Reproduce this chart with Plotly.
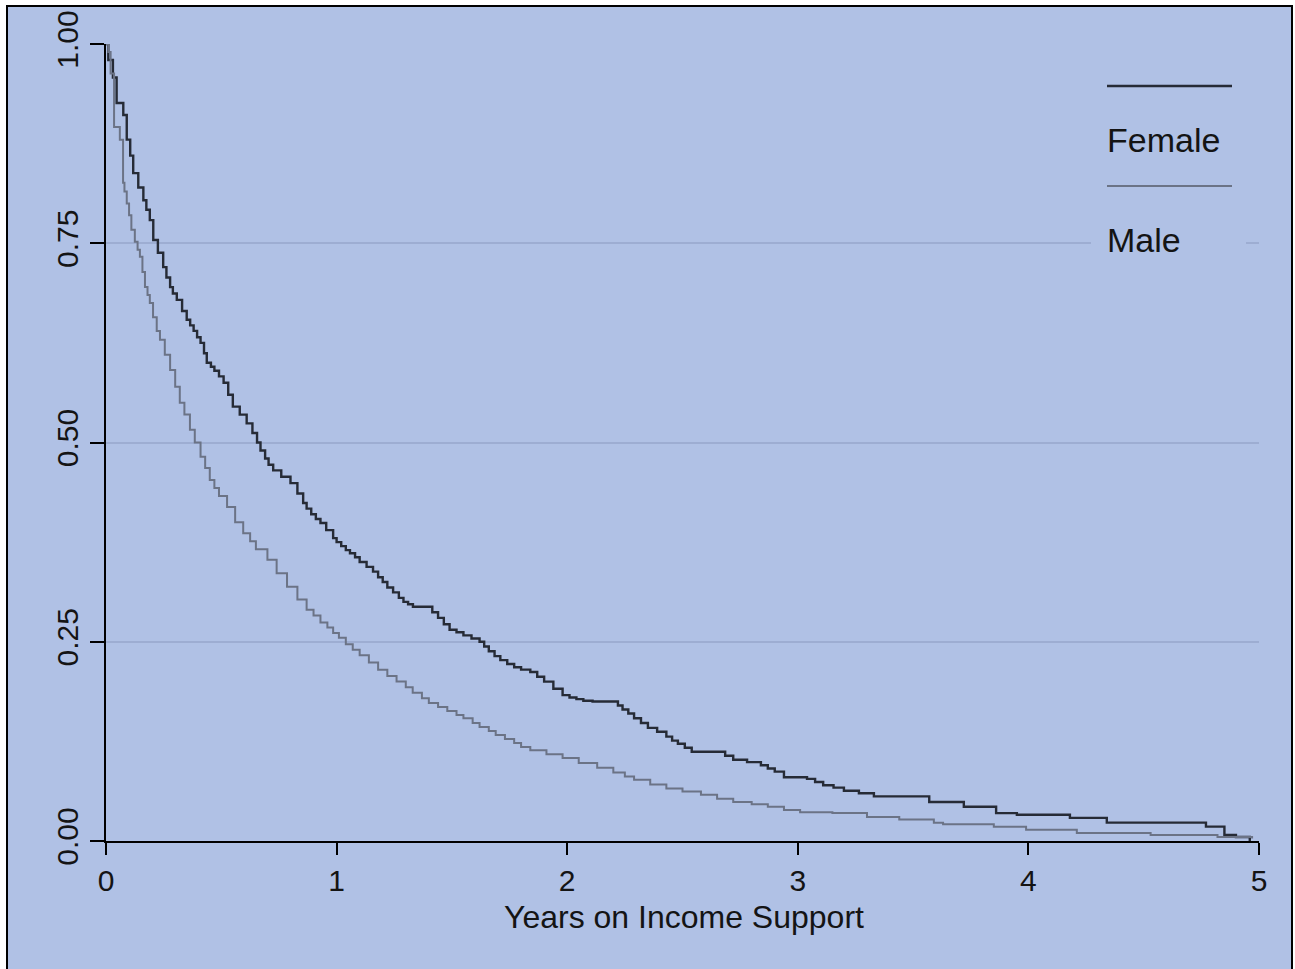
import plotly.graph_objects as go

# ---- data ----
female_t = [0, 0.01, 0.03, 0.046, 0.075, 0.09, 0.105, 0.118, 0.14, 0.162, 0.175, 0.19, 0.205, 0.225,
            0.248, 0.262, 0.278, 0.29, 0.307, 0.33, 0.35, 0.365, 0.38, 0.395, 0.41, 0.425, 0.437,
            0.455, 0.47, 0.49, 0.51, 0.53, 0.55, 0.58, 0.61, 0.635, 0.655, 0.67, 0.69, 0.705, 0.725,
            0.76, 0.80, 0.83, 0.855, 0.87, 0.89, 0.91, 0.93, 0.955, 0.985, 1.0, 1.02, 1.04, 1.058,
            1.08, 1.10, 1.13, 1.158, 1.18, 1.20, 1.22, 1.245, 1.27, 1.29, 1.31, 1.331, 1.39, 1.415,
            1.44, 1.465, 1.49, 1.52, 1.55, 1.585, 1.62, 1.64, 1.66, 1.685, 1.71, 1.74, 1.77, 1.80,
            1.84, 1.87, 1.90, 1.94, 1.98, 2.01, 2.04, 2.07, 2.11, 2.20, 2.22, 2.24, 2.265, 2.29, 2.32,
            2.35, 2.39, 2.43, 2.455, 2.48, 2.51, 2.54, 2.65, 2.685, 2.72, 2.78, 2.84, 2.87, 2.90, 2.94,
            3.04, 3.075, 3.11, 3.155, 3.20, 3.265, 3.33, 3.44, 3.57, 3.72, 3.86, 3.95, 4.18, 4.34,
            4.77, 4.85, 4.90, 4.96]
female_s = [1.00, 0.98, 0.958, 0.926, 0.911, 0.88, 0.86, 0.838, 0.82, 0.804, 0.792, 0.779, 0.754, 0.738,
            0.72, 0.707, 0.695, 0.687, 0.679, 0.665, 0.654, 0.647, 0.64, 0.632, 0.625, 0.612, 0.60,
            0.595, 0.59, 0.583, 0.575, 0.56, 0.545, 0.535, 0.524, 0.512, 0.50, 0.49, 0.48, 0.472, 0.465,
            0.457, 0.449, 0.436, 0.424, 0.417, 0.41, 0.404, 0.399, 0.39, 0.38, 0.375, 0.37, 0.365, 0.361,
            0.356, 0.35, 0.344, 0.338, 0.331, 0.325, 0.318, 0.312, 0.305, 0.30, 0.297, 0.294, 0.294, 0.287,
            0.28, 0.272, 0.265, 0.262, 0.258, 0.254, 0.25, 0.244, 0.238, 0.232, 0.227, 0.222, 0.218, 0.215,
            0.212, 0.206, 0.20, 0.191, 0.183, 0.18, 0.178, 0.176, 0.175, 0.175, 0.17, 0.165, 0.16, 0.154, 0.148,
            0.142, 0.137, 0.131, 0.126, 0.122, 0.117, 0.112, 0.112, 0.107, 0.102, 0.099, 0.095, 0.091, 0.087, 0.080,
            0.078, 0.074, 0.070, 0.067, 0.063, 0.060, 0.056, 0.056, 0.049, 0.043, 0.035, 0.033, 0.029, 0.023,
            0.018, 0.0075, 0.005, 0.0]

male_t = [0, 0.01, 0.02, 0.035, 0.06, 0.074, 0.08, 0.09, 0.10, 0.11, 0.125, 0.137, 0.147, 0.158, 0.169,
          0.18, 0.19, 0.204, 0.22, 0.234, 0.255, 0.278, 0.30, 0.32, 0.34, 0.364, 0.385, 0.41, 0.43,
          0.45, 0.47, 0.49, 0.525, 0.56, 0.595, 0.625, 0.65, 0.70, 0.74, 0.785, 0.83, 0.87, 0.90, 0.93,
          0.96, 0.985, 1.01, 1.04, 1.07, 1.10, 1.14, 1.18, 1.22, 1.26, 1.30, 1.33, 1.37, 1.40, 1.44,
          1.48, 1.52, 1.55, 1.59, 1.62, 1.66, 1.69, 1.73, 1.77, 1.80, 1.84, 1.91, 1.98, 2.05, 2.13,
          2.20, 2.25, 2.29, 2.36, 2.43, 2.50, 2.58, 2.65, 2.72, 2.80, 2.87, 2.94, 3.01, 3.15, 3.30,
          3.44, 3.59, 3.63, 3.85, 3.99, 4.21, 4.53, 4.82, 4.97]
male_s = [1.00, 0.99, 0.963, 0.896, 0.88, 0.826, 0.815, 0.80, 0.785, 0.767, 0.752, 0.742, 0.733, 0.714, 0.695,
          0.685, 0.675, 0.657, 0.64, 0.629, 0.61, 0.591, 0.57, 0.55, 0.535, 0.516, 0.50, 0.482, 0.468,
          0.453, 0.443, 0.433, 0.419, 0.40, 0.386, 0.376, 0.366, 0.353, 0.336, 0.319, 0.303, 0.29, 0.283, 0.274,
          0.268, 0.261, 0.255, 0.247, 0.24, 0.233, 0.224, 0.215, 0.207, 0.20, 0.193, 0.186, 0.179, 0.173, 0.168,
          0.163, 0.158, 0.154, 0.148, 0.143, 0.138, 0.133, 0.128, 0.123, 0.118, 0.114, 0.109, 0.104, 0.098, 0.092,
          0.086, 0.081, 0.077, 0.071, 0.066, 0.062, 0.058, 0.053, 0.049, 0.046, 0.043, 0.039, 0.036, 0.035, 0.030,
          0.027, 0.023, 0.021, 0.018, 0.014, 0.010, 0.0075, 0.005, 0.003]

series_names = ["Female", "Male"]
y_tickvals = [0, 0.25, 0.5, 0.75, 1.0]
y_ticktext = ["0.00", "0.25", "0.50", "0.75", "1.00"]
x_tickvals = [0, 1, 2, 3, 4, 5]
x_title = "Years on Income Support"

# ---- styling ----
W, H = 1295, 969
L, R, T, B = 106, 36, 44, 128
PW, PH = W - L - R, H - T - B
BG = "#B0C1E5"
FEMALE_C = "#262b36"
MALE_C = "#6b7386"
FONT = "Liberation Sans, Arial, sans-serif"
TXT = "#141414"


def px(xpix):
    return (xpix - L) / PW


def py(ypix):
    return (H - B - ypix) / PH


fig = go.Figure()
fig.add_trace(go.Scatter(x=female_t, y=female_s, mode="lines", name=series_names[0],
                         line=dict(color=FEMALE_C, width=2.4, shape="hv"), showlegend=False))
fig.add_trace(go.Scatter(x=male_t, y=male_s, mode="lines", name=series_names[1],
                         line=dict(color=MALE_C, width=2.0, shape="hv"), showlegend=False))

shapes = [
    # outer panel with black border
    dict(type="rect", xref="paper", yref="paper", x0=px(7), x1=px(1292), y0=py(990), y1=py(6),
         fillcolor=BG, line=dict(color="black", width=2), layer="below"),
    # legend background (hides gridline)
    dict(type="rect", xref="paper", yref="paper", x0=px(1091), x1=px(1246), y0=py(268), y1=py(60),
         fillcolor=BG, line=dict(width=0), layer="above"),
    # legend keys
    dict(type="line", xref="paper", yref="paper", x0=px(1107), x1=px(1232), y0=py(86), y1=py(86),
         line=dict(color=FEMALE_C, width=2.4), layer="above"),
    dict(type="line", xref="paper", yref="paper", x0=px(1107), x1=px(1232), y0=py(186), y1=py(186),
         line=dict(color=MALE_C, width=2.0), layer="above"),
]

annotations = [
    dict(text=series_names[0], xref="paper", yref="paper", x=px(1105), y=py(140), xanchor="left",
         yanchor="middle", showarrow=False, font=dict(family=FONT, size=34, color=TXT)),
    dict(text=series_names[1], xref="paper", yref="paper", x=px(1105), y=py(240), xanchor="left",
         yanchor="middle", showarrow=False, font=dict(family=FONT, size=34, color=TXT)),
    dict(text=x_title, xref="paper", yref="paper", x=px(684), y=py(917), xanchor="center",
         yanchor="middle", showarrow=False, borderpad=0, font=dict(family=FONT, size=32, color=TXT)),
]

fig.update_layout(
    width=W, height=H,
    margin=dict(l=L, r=R, t=T, b=B, pad=0),
    paper_bgcolor="white", plot_bgcolor=BG,
    font=dict(family=FONT, size=30, color=TXT),
    shapes=shapes, annotations=annotations,
    showlegend=False,
    xaxis=dict(range=[0, 5], tickvals=x_tickvals, ticks="outside", ticklen=12, tickwidth=2,
               tickcolor="black", showline=True, linewidth=2, linecolor="black",
               showgrid=False, zeroline=False, ticklabelstandoff=0, automargin=False),
    yaxis=dict(range=[0, 1], tickvals=y_tickvals, ticktext=y_ticktext, tickangle=-90,
               ticks="outside", ticklen=14, tickwidth=2, tickcolor="black",
               showline=True, linewidth=2, linecolor="black",
               showgrid=True, gridcolor="#9dadd2", gridwidth=1.5, zeroline=False,
               automargin=False),
)

fig.write_html("out.html")
